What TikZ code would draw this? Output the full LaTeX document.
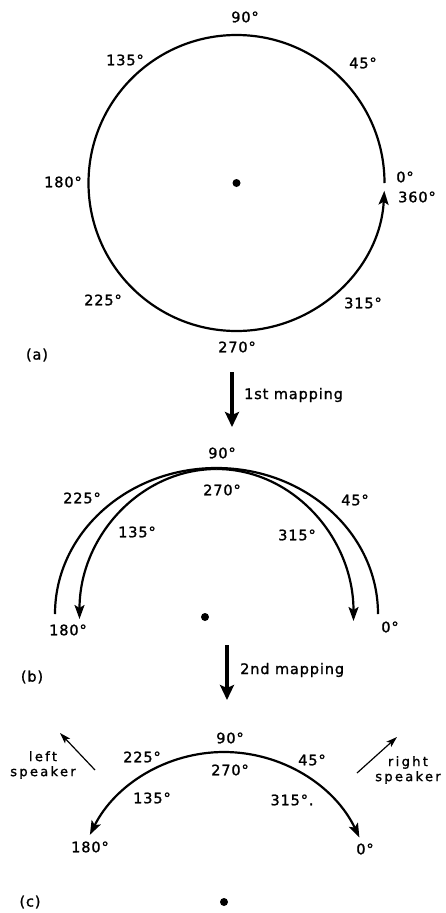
\documentclass[tikz,border=0pt]{standalone}
\usepackage{fontspec}
\setmainfont[LetterSpace=6,FakeBold=1.3]{DejaVu Sans}
\newfontfamily\spkfont[LetterSpace=18,FakeBold=1.3]{DejaVu Sans}
\usetikzlibrary{arrows.meta,calc}
\begin{document}
\begin{tikzpicture}[x=1pt,y=1pt,
  lab/.style={font=\fontsize{14.5}{16}\selectfont, inner sep=0pt},
  spk/.style={font=\spkfont\fontsize{13}{15}\selectfont, align=center, inner sep=0pt},
  arcline/.style={line width=2.2pt},
  tipend/.style={-{Stealth[length=14pt,width=10pt,inset=3pt]}},
  maparrow/.style={line width=4pt,-{Stealth[length=15pt,width=14pt,inset=3pt]}},
  thinarrow/.style={line width=1.2pt,-{Stealth[length=11pt,width=7pt,inset=2.5pt]}},
  centerdot/.style={circle,fill,inner sep=0pt,minimum size=8pt}]
\useasboundingbox (0,0) rectangle (445,-913);

% ---------- (a) ----------
\node[centerdot] (ca) at (236.5,-183) {};
\coordinate (a0) at ($(ca)+(0:148)$);
\draw[arcline,tipend] (a0) arc[start angle=0,end angle=357,radius=148];
\node[lab] (a90)  at (245,-17)  {90°};
\node[lab] (a135) at (125,-60)  {135°};
\node[lab] (a45)  at (363,-63)  {45°};
\node[lab] (a180) at (63,-182)  {180°};
\node[lab] (a0l)  at (405,-177) {0°};
\node[lab] (a360) at (417,-197) {360°};
\node[lab] (a225) at (103,-300) {225°};
\node[lab] (a315) at (363,-303) {315°};
\node[lab] (a270) at (237,-347) {270°};
\node[lab] (pa)   at (37,-355)  {(a)};

% ---------- 1st mapping ----------
\coordinate (m1s) at (232,-372);
\coordinate (m1e) at (232,-427);
\draw[maparrow] (m1s) -- (m1e);
\node[lab,anchor=west] (m1l) at (244,-395) {1st mapping};

% ---------- (b) ----------
\node[centerdot] (cb) at (205,-617) {};
\coordinate (bo0) at (378,-614);
\draw[arcline] (bo0) arc[start angle=0,end angle=180,x radius=161.5,y radius=146];
\coordinate (bitop) at (216.5,-469);
\draw[arcline,tipend] (bitop) arc[start angle=90,end angle=180,x radius=137,y radius=150];
\draw[arcline,tipend] (bitop) arc[start angle=90,end angle=0,x radius=137,y radius=152];
\node[lab] (b90)  at (222,-453) {90°};
\node[lab] (b270) at (222,-490) {270°};
\node[lab] (b225) at (82,-498)  {225°};
\node[lab] (b45)  at (355,-500) {45°};
\node[lab] (b135) at (137,-532) {135°};
\node[lab] (b315) at (297,-535) {315°};
\node[lab] (b180) at (68,-630)  {180°};
\node[lab] (b0)   at (390,-627) {0°};
\node[lab] (pb)   at (32,-677)  {(b)};

% ---------- 2nd mapping ----------
\coordinate (m2s) at (227,-645);
\coordinate (m2e) at (227,-700);
\draw[maparrow] (m2s) -- (m2e);
\node[lab,anchor=west] (m2l) at (240,-670) {2nd mapping};

% ---------- (c) ----------
\node[centerdot] (cc) at (224,-902) {};
\coordinate (ctop) at ($(cc)+(90:150)$);
\draw[arcline,tipend] (ctop) arc[start angle=90,end angle=153.4,radius=150];
\draw[arcline,tipend] (ctop) arc[start angle=90,end angle=25.5,radius=150];
\node[lab] (c90)  at (230,-738) {90°};
\node[lab] (c225) at (142,-757) {225°};
\node[lab] (c45)  at (312,-760) {45°};
\node[lab] (c270) at (230,-770) {270°};
\node[lab] (c135) at (152,-798) {135°};
\node[lab] (c315) at (292,-800) {315°.};
\node[lab] (c180) at (90,-847)  {180°};
\node[lab] (c0)   at (365,-849) {0°};
\node[lab] (pc)   at (30,-902)  {(c)};

\node[spk] (ls) at (43,-765) {left\\speaker};
\coordinate (lsa) at (95,-770);
\coordinate (lsb) at (60,-733);
\draw[thinarrow] (lsa) -- (lsb);

\node[spk] (rs) at (408,-770) {right\\speaker};
\coordinate (rsa) at (357,-773);
\coordinate (rsb) at (397,-737);
\draw[thinarrow] (rsa) -- (rsb);
\end{tikzpicture}
\end{document}
